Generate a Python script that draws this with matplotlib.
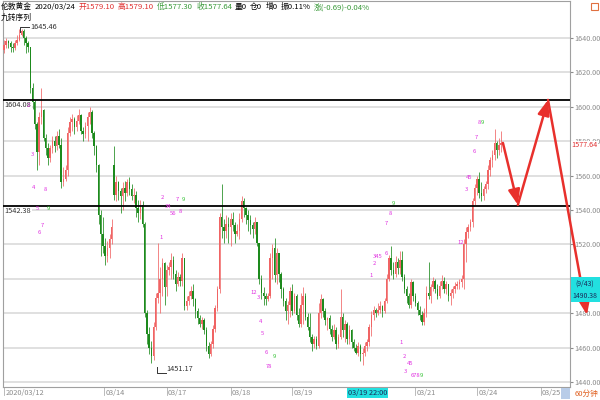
import matplotlib
matplotlib.use("Agg")
import matplotlib.pyplot as plt
from matplotlib.patches import Rectangle
from matplotlib.transforms import blended_transform_factory

plt.rcParams['font.family'] = ['Noto Sans CJK SC', 'DejaVu Sans']

# hourly bars
first_open = 1633
gap_opens = {50: 1566}
closes = [
    1636, 1638, 1637, 1635, 1634, 1637, 1639, 1642, 1644, 1640, 1637, 1635,
    1611, 1603, 1590, 1574, 1594, 1598, 1582, 1576, 1570, 1576, 1580, 1577,
    1583, 1578, 1556, 1558, 1563, 1585, 1591, 1593, 1588, 1592, 1595, 1586,
    1584, 1589, 1594, 1597, 1585, 1577, 1566, 1537, 1526, 1519, 1513, 1518,
    1523, 1530, 1549, 1556,
    1551, 1548, 1553, 1550, 1556, 1552, 1548, 1549, 1541, 1538, 1543, 1532,
    1480, 1468, 1460, 1455, 1472, 1489, 1492, 1500, 1509, 1495, 1505, 1507,
    1511, 1503, 1497, 1501, 1499, 1512, 1484, 1487, 1490, 1493, 1488, 1481,
    1477, 1474, 1476, 1470, 1461, 1456, 1462, 1471, 1483, 1494, 1536, 1530,
    1528, 1532, 1530, 1535, 1531, 1526, 1528, 1535, 1545, 1541, 1537, 1534,
    1531, 1529,
    1533, 1521, 1500, 1492, 1490, 1488, 1490, 1512, 1518, 1502, 1515, 1503,
    1494, 1487, 1481, 1485, 1493, 1481, 1490, 1479, 1474, 1485, 1490, 1478,
    1472, 1466, 1462, 1465, 1461, 1480, 1488, 1481, 1476, 1477, 1471, 1466,
    1470, 1462, 1466, 1478, 1470, 1474, 1465, 1470, 1463, 1460, 1457, 1461,
    1456, 1457, 1461, 1463, 1472, 1479, 1482, 1480,
    1482, 1484, 1481, 1487, 1500, 1512, 1505, 1503, 1510, 1506, 1511, 1501,
    1494, 1490, 1485, 1498, 1490, 1486, 1482, 1479, 1475, 1480, 1492, 1490,
    1495, 1499, 1494, 1490, 1496, 1499, 1494, 1497, 1490, 1492, 1494, 1496,
    1497, 1498, 1500, 1520, 1527, 1530, 1533, 1545, 1553, 1558, 1550, 1548,
    1552, 1555, 1563, 1569, 1572, 1579, 1575, 1578, 1579.10, 1577.64,
]
highs = [
    1639, 1640, 1639, 1638, 1637, 1639, 1642, 1645, 1645.46, 1645, 1641, 1638,
    1635, 1614, 1604, 1591, 1597, 1611, 1599, 1584, 1579, 1578, 1583, 1583,
    1586, 1587, 1582, 1565, 1566, 1588, 1594, 1596, 1594, 1595, 1599, 1596,
    1588, 1591, 1597, 1600, 1598, 1586, 1578, 1567, 1540, 1536, 1524, 1522,
    1526, 1535, 1577, 1560,
    1557, 1553, 1556, 1557, 1558, 1559, 1555, 1553, 1551, 1546, 1546, 1545,
    1533, 1482, 1472, 1464, 1475, 1492, 1521, 1507, 1512, 1510, 1508, 1510,
    1515, 1513, 1505, 1504, 1503, 1515, 1512, 1490, 1493, 1496, 1497, 1489,
    1483, 1479, 1478, 1477, 1472, 1463, 1464, 1473, 1485, 1496, 1538, 1555,
    1535, 1537, 1536, 1538, 1539, 1533, 1532, 1538, 1548, 1547, 1542, 1540,
    1537, 1533,
    1536, 1533, 1521, 1502, 1495, 1492, 1492, 1515, 1520, 1524, 1518, 1513,
    1504, 1495, 1489, 1487, 1495, 1497, 1492, 1491, 1483, 1492, 1495, 1492,
    1480, 1480, 1468, 1467, 1467, 1486, 1491, 1489, 1483, 1478, 1479, 1473,
    1474, 1472, 1468, 1494, 1480, 1476, 1475, 1473, 1471, 1465, 1462, 1463,
    1462, 1460, 1463, 1465, 1474, 1481, 1484, 1483,
    1486, 1487, 1485, 1489, 1503, 1514, 1519, 1510, 1513, 1512, 1516, 1516,
    1503, 1496, 1492, 1500, 1499, 1492, 1487, 1484, 1481, 1483, 1496, 1510,
    1497, 1501, 1500, 1497, 1499, 1502, 1501, 1499, 1497, 1494, 1496, 1498,
    1499, 1500, 1502, 1523, 1530, 1532, 1535, 1547, 1555, 1560, 1562, 1556,
    1554, 1557, 1566, 1571, 1575, 1587, 1580, 1582, 1586, 1579.10,
]
lows = [
    1631, 1634, 1634, 1632, 1632, 1633, 1636, 1638, 1641, 1636, 1631, 1632,
    1608, 1599, 1587, 1563, 1566, 1590, 1580, 1572, 1566, 1568, 1573, 1574,
    1575, 1576, 1553, 1554, 1557, 1560, 1583, 1586, 1584, 1586, 1590, 1584,
    1580, 1582, 1580, 1590, 1582, 1572, 1562, 1532, 1513, 1515, 1508, 1510,
    1512, 1520, 1546, 1545,
    1546, 1538, 1540, 1545, 1548, 1549, 1546, 1544, 1536, 1533, 1535, 1530,
    1478, 1462, 1456, 1451.17, 1453, 1470, 1486, 1480, 1490, 1485, 1490, 1502,
    1500, 1500, 1493, 1496, 1496, 1496, 1482, 1482, 1485, 1488, 1484, 1477,
    1474, 1472, 1471, 1468, 1458, 1454, 1455, 1460, 1469, 1481, 1492, 1524,
    1521, 1524, 1521, 1519, 1528, 1521, 1525, 1523, 1533, 1536, 1532, 1528,
    1526, 1524,
    1526, 1519, 1497, 1488, 1485, 1485, 1487, 1489, 1500, 1498, 1497, 1498,
    1489, 1484, 1476, 1474, 1478, 1479, 1480, 1476, 1472, 1472, 1474, 1476,
    1470, 1463, 1458, 1460, 1459, 1460, 1477, 1478, 1473, 1470, 1468, 1464,
    1465, 1459, 1460, 1465, 1466, 1463, 1462, 1462, 1460, 1458, 1456, 1455,
    1452, 1450, 1455, 1458, 1461, 1467, 1476, 1478,
    1479, 1480, 1478, 1480, 1486, 1499, 1502, 1500, 1501, 1503, 1503, 1499,
    1492, 1486, 1483, 1483, 1487, 1484, 1479, 1476, 1473, 1473, 1478, 1488,
    1486, 1493, 1492, 1488, 1489, 1494, 1492, 1491, 1487, 1485, 1489, 1492,
    1494, 1494, 1495, 1494, 1510, 1524, 1528, 1530, 1543, 1549, 1547, 1545,
    1546, 1550, 1552, 1560, 1565, 1569, 1570, 1572, 1574, 1577.30,
]

level_lines = [1604.08, 1542.38]
peak_value = 1645.46
trough_value = 1451.17
last_price = 1577.64

forecast_x = [226.8, 233.6, 247.3, 265.0]
forecast_y = [1579, 1543, 1604, 1479]

y_ticks = [1440, 1460, 1480, 1500, 1520, 1540, 1560, 1580, 1600, 1620, 1640]
date_labels = ['2020/03/12', '03/14', '03/17', '03/18', '03/19',
               '03/19 22:00', '03/21', '03/24', '03/25']
date_pos = [0, 45.5, 74, 103, 131, 156, 187, 215, 244]

header = [
    ('伦敦黄金', 'black'), ('2020/03/24', 'black'),
    ('开1579.10', '#e03030'), ('高1579.10', '#e03030'),
    ('低1577.30', '#3a9a3a'), ('收1577.64', '#3a9a3a'),
    ('量0', 'black'), ('仓0', 'black'), ('增0', 'black'),
    ('振0.11%', 'black'), ('涨(-0.69)-0.04%', '#3a9a3a'),
]

td_marks = [
    (11, 1601, '2', 'm'), (12.7, 1572, '3', 'm'), (13.6, 1553, '4', 'm'),
    (18.6, 1552, '8', 'm'), (15, 1541, '5', 'm'), (20, 1541, '9', 'g'),
    (17.3, 1531, '7', 'm'), (15.9, 1527, '6', 'm'),
    (71.8, 1547, '2', 'm'), (74.5, 1542, '34', 'm'), (76.8, 1538, '56', 'm'),
    (78.6, 1546, '7', 'm'), (81.4, 1546, '9', 'g'), (80, 1539, '8', 'm'),
    (71.4, 1524, '1', 'm'),
    (113.6, 1492, '12', 'm'), (115.5, 1489, '3', 'm'), (116.8, 1475, '4', 'm'),
    (117.7, 1468, '5', 'm'), (119, 1457, '6', 'm'), (120.5, 1449, '78', 'm'),
    (122.7, 1455, '9', 'g'),
    (166.8, 1502, '1', 'm'), (168.2, 1509, '2', 'm'), (170, 1513, '345', 'm'),
    (173.6, 1515, '6', 'm'), (174, 1532, '7', 'm'), (175.5, 1538, '8', 'm'),
    (176.8, 1544, '9', 'g'),
    (180.5, 1463, '1', 'm'), (181.8, 1455, '2', 'm'), (182.7, 1446, '3', 'm'),
    (184.5, 1451, '45', 'm'), (187, 1444, '678', 'm'), (189.6, 1444, '9', 'g'),
    (207.7, 1521, '12', 'm'), (210, 1552, '3', 'm'), (211.4, 1559, '45', 'm'),
    (213.6, 1574, '6', 'm'), (214.5, 1582, '7', 'm'), (215.9, 1591, '8', 'm'),
    (217.3, 1591, '9', 'g'),
]

RED = '#f06464'
GREEN = '#1d8a1d'
GRAY = '#8c8c8c'

fig = plt.figure(figsize=(6, 4), dpi=100)
ax = fig.add_axes([3 / 600, 13 / 400, 567 / 600, 386 / 400])
ax.set_xlim(-0.45, 257.3)
ax.set_ylim(1437.1, 1661.5)

for v in y_ticks:
    ax.axhline(v, color='#dddddd', lw=1.3, zorder=0)

opens = [first_open] + closes[:-1]
for k, v in gap_opens.items():
    opens[k] = v

for i, (o, h, l, c) in enumerate(zip(opens, highs, lows, closes)):
    col = RED if c >= o else GREEN
    ax.vlines(i, l, h, color=col, lw=0.55, zorder=2)
    body = max(abs(c - o), 0.4)
    ax.add_patch(Rectangle((i - 0.32, min(o, c)), 0.64, body,
                           facecolor=col, edgecolor='none', zorder=3))

for v in level_lines:
    ax.axhline(v, color='black', lw=1.3, zorder=4)
    ax.text(0.3, v - 0.8, f'{v:.2f}', fontsize=5.3, color='#333333',
            va='top', ha='left', zorder=5,
            bbox=dict(facecolor='white', edgecolor='none', pad=0.3))

# peak / trough markers
ax.plot([7.3, 7.3, 11.5], [1643.5, 1646.5, 1646.5], color='#333333', lw=0.7)
ax.text(11.8, 1646.5, f'{peak_value:.2f}', fontsize=5.3, va='center', color='#333333')
ax.plot([69.5, 69.5, 73.5], [1448.5, 1445.5, 1445.5], color='#333333', lw=0.7)
ax.text(74, 1447.5, f'{trough_value:.2f}', fontsize=5.3, va='center', color='#333333')

for x, y, t, c in td_marks:
    ax.text(x, y, t, fontsize=4.2, color='#e030e0' if c == 'm' else '#30c030',
            ha='center', va='center', zorder=6)

# forecast arrows
for k in range(3):
    ax.annotate('', xy=(forecast_x[k + 1], forecast_y[k + 1]),
                xytext=(forecast_x[k], forecast_y[k]),
                arrowprops=dict(arrowstyle='-|>,head_length=0.9,head_width=0.35',
                                color='#e8302c', lw=1.8, shrinkA=0, shrinkB=0),
                annotation_clip=False, zorder=7)

# right axis
ax.yaxis.tick_right()
ax.set_yticks(y_ticks)
ax.set_yticklabels([f'{v:.2f}' for v in y_ticks])
ax.tick_params(axis='y', labelsize=5.2, labelcolor=GRAY, color=GRAY,
               length=2, pad=1)
ax.set_xticks([])
for s in ax.spines.values():
    s.set_color('#a0a0a0')
    s.set_linewidth(0.8)

ax.text(1.002, (last_price - 1437.1) / (1661.5 - 1437.1), f'{last_price:.2f}',
        transform=ax.transAxes, fontsize=5.2, color='#e03030', va='center',
        ha='left', bbox=dict(facecolor='white', edgecolor='none', pad=0.4))

# cyan price box
fig.patches.append(Rectangle((571 / 600, 1 - 302 / 400), 29 / 600, 25 / 400,
                             transform=fig.transFigure, facecolor='#22e0e0',
                             edgecolor='none'))
fig.text(585 / 600, 1 - 283.5 / 400, '(9/43)', fontsize=5.0, ha='center',
         va='center', color='#1a2a5a')
fig.text(585 / 600, 1 - 295.5 / 400, '1490.38', fontsize=5.0, ha='center',
         va='center', color='#1a2a5a')

# date row
tr = blended_transform_factory(ax.transData, ax.transAxes)
for pos, lab in zip(date_pos, date_labels):
    ax.plot([pos, pos], [0, -0.022], color='#b0b0b0', lw=0.6,
            transform=tr, clip_on=False)
    if '22:00' in lab:
        ax.text(pos + 0.3, -0.016, lab, transform=tr, fontsize=5.3,
                color='#1a2a5a', va='center', ha='left',
                bbox=dict(facecolor='#22e0e0', edgecolor='none', pad=0.8))
    else:
        ax.text(pos + 0.6, -0.016, lab, transform=tr, fontsize=5.3,
                color=GRAY, va='center', ha='left')

fig.patches.append(Rectangle((561 / 600, 1 / 400), 9 / 600, 11 / 400,
                             transform=fig.transFigure, facecolor='#b8cce8',
                             edgecolor='none'))
fig.text(575 / 600, 6.5 / 400, '60分钟', fontsize=5.5, color='#e06020',
         va='center', ha='left')

# header line, laid out piece by piece
renderer = fig.canvas.get_renderer()
x_px = 1.0
for txt, col in header:
    t = fig.text(x_px / 600, 1 - 7 / 400, txt, fontsize=5.6, color=col,
                 va='center', ha='left')
    x_px = t.get_window_extent(renderer).x1 + 3
fig.text(1 / 600, 1 - 18 / 400, '九转序列', fontsize=5.6, color='black',
         va='center', ha='left')

fig.patches.append(Rectangle((591 / 600, 1 - 10 / 400), 7 / 600, 7 / 400,
                             transform=fig.transFigure, facecolor='white',
                             edgecolor='#e07040', lw=0.8))

fig.savefig('out.png', dpi=100)
